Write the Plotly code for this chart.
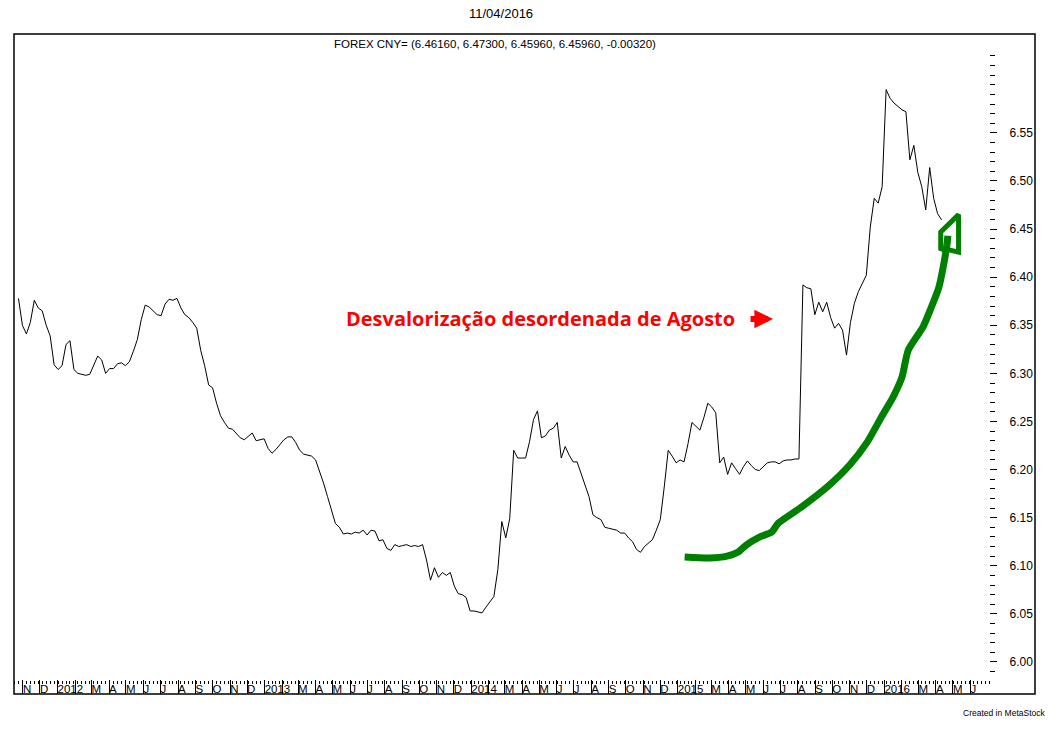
import numpy as np
import pandas as pd
import plotly.graph_objects as go

# ---------------- data (weekly closes, USD/CNY) ----------------
last_date = "2016-04-11"
close = [
    6.378, 6.350, 6.341, 6.353, 6.376, 6.368, 6.365, 6.350, 6.339, 6.309,
    6.304, 6.308, 6.330, 6.334, 6.304, 6.300, 6.299, 6.298, 6.299, 6.308,
    6.318, 6.314, 6.300, 6.305, 6.305, 6.310, 6.311, 6.308, 6.312, 6.323,
    6.335, 6.356, 6.371, 6.369, 6.365, 6.361, 6.360, 6.372, 6.377, 6.376,
    6.378, 6.368, 6.361, 6.358, 6.353, 6.347, 6.324, 6.308, 6.288, 6.285,
    6.269, 6.256, 6.249, 6.243, 6.242, 6.238, 6.233, 6.231, 6.235, 6.238,
    6.230, 6.231, 6.232, 6.222, 6.217, 6.221, 6.226, 6.231, 6.234, 6.234,
    6.228, 6.220, 6.216, 6.215, 6.214, 6.210, 6.199, 6.186, 6.172, 6.157,
    6.144, 6.140, 6.133, 6.134, 6.133, 6.135, 6.134, 6.137, 6.132, 6.137,
    6.136, 6.126, 6.127, 6.118, 6.116, 6.122, 6.120, 6.121, 6.122, 6.120,
    6.121, 6.120, 6.122, 6.106, 6.085, 6.098, 6.088, 6.093, 6.090, 6.093,
    6.079, 6.071, 6.070, 6.067, 6.053, 6.053, 6.052, 6.051, 6.057, 6.062,
    6.068, 6.096, 6.146, 6.129, 6.149, 6.220, 6.212, 6.212, 6.212, 6.229,
    6.252, 6.261, 6.233, 6.235, 6.241, 6.243, 6.249, 6.212, 6.224, 6.215,
    6.208, 6.208, 6.196, 6.186, 6.172, 6.153, 6.150, 6.148, 6.140, 6.139,
    6.138, 6.137, 6.134, 6.134, 6.129, 6.125, 6.117, 6.114, 6.120, 6.124,
    6.127, 6.137, 6.148, 6.182, 6.220, 6.214, 6.207, 6.210, 6.208, 6.227,
    6.249, 6.245, 6.241, 6.254, 6.269, 6.265, 6.259, 6.207, 6.213, 6.195,
    6.207, 6.201, 6.195, 6.203, 6.209, 6.204, 6.200, 6.199, 6.203, 6.207,
    6.208, 6.208, 6.206, 6.209, 6.210, 6.210, 6.211, 6.211, 6.392, 6.389,
    6.388, 6.361, 6.374, 6.364, 6.374, 6.358, 6.347, 6.352, 6.345, 6.319,
    6.353, 6.373, 6.385, 6.394, 6.402, 6.452, 6.482, 6.477, 6.494, 6.595,
    6.586, 6.581, 6.577, 6.574, 6.572, 6.522, 6.537, 6.509, 6.494, 6.470,
    6.514, 6.482, 6.466, 6.4596,
]
dates = pd.date_range(end=last_date, periods=len(close), freq="7D")

# hand-drawn green trend arrow (annotation drawn on the chart)
trend_dates = ["2015-01-13", "2015-02-26", "2015-03-29", "2015-04-17", "2015-05-03",
               "2015-05-26", "2015-06-16", "2015-06-27", "2015-08-05", "2015-09-22",
               "2015-11-01", "2015-12-01", "2015-12-27", "2016-01-16", "2016-02-01",
               "2016-02-12", "2016-03-09", "2016-03-22", "2016-04-06", "2016-04-14",
               "2016-04-21", "2016-04-22"]
trend_values = [6.109, 6.108, 6.110, 6.114, 6.122,
                6.130, 6.135, 6.144, 6.160, 6.182,
                6.205, 6.228, 6.255, 6.275, 6.296,
                6.324, 6.348, 6.366, 6.389, 6.411,
                6.436, 6.443]
head_dates = ["2016-04-13", "2016-04-09 12:00", "2016-04-09 12:00", "2016-05-11", "2016-05-11", "2016-04-13"]
head_values = [6.430, 6.428, 6.447, 6.465, 6.426, 6.430]

# axis labels
month_initials = ["J", "F", "M", "A", "M", "J", "J", "A", "S", "O", "N", "D"]
month_ticks = pd.date_range("2011-11-01", "2016-06-01", freq="MS")
month_text = [str(d.year) if d.month == 1 else ("" if d.month == 2 else month_initials[d.month - 1])
              for d in month_ticks]
price_ticks = [6.00, 6.05, 6.10, 6.15, 6.20, 6.25, 6.30, 6.35, 6.40, 6.45, 6.50, 6.55]
price_minor = list(np.round(np.arange(599, 664) / 100.0, 2))

title_date = "11/04/2016"
header = "FOREX CNY= (6.46160, 6.47300, 6.45960, 6.45960, -0.00320)"
note = "Desvalorização desordenada de Agosto"

FONT = "Liberation Sans, Arial, sans-serif"

fig = go.Figure()
fig.add_trace(go.Scatter(x=dates, y=close, mode="lines",
                         line=dict(color="black", width=1), hoverinfo="skip", showlegend=False))
fig.add_trace(go.Scatter(x=trend_dates, y=trend_values, mode="lines",
                         line=dict(color="#008000", width=7, shape="spline", smoothing=0.6),
                         hoverinfo="skip", showlegend=False))
fig.add_trace(go.Scatter(x=head_dates, y=head_values, mode="lines",
                         line=dict(color="#008000", width=5), hoverinfo="skip", showlegend=False))
# invisible trace to keep the label axis alive
fig.add_trace(go.Scatter(x=[dates[0]], y=[close[0]], xaxis="x2", mode="markers",
                         marker=dict(opacity=0), hoverinfo="skip", showlegend=False))

x_range = ["2011-10-16 03:00", "2016-07-05 12:00"]
x_dom = [0, 0.9559]

fig.update_layout(
    width=1063, height=734,
    margin=dict(l=14, r=28, t=34, b=40),
    paper_bgcolor="white", plot_bgcolor="white",
    showlegend=False,
    xaxis=dict(type="date", domain=x_dom, range=x_range, anchor="y",
               showgrid=False, zeroline=False, showline=False,
               tickmode="array", tickvals=month_ticks, ticks="inside", ticklen=14,
               tickwidth=1, tickcolor="black", showticklabels=False),
    xaxis2=dict(type="date", overlaying="x", matches="x", anchor="free", position=14 / 660,
                side="bottom", domain=x_dom, range=x_range,
                showgrid=False, zeroline=False, showline=False,
                tickmode="array", tickvals=month_ticks, ticktext=month_text,
                ticks="", ticklabelposition="outside right", tickangle=0,
                tickfont=dict(family=FONT, size=11.5, color="black"),
                minor=dict(tickmode="linear", tick0="2011-10-24", dtick=7 * 86400000,
                           ticks="outside", ticklen=3, tickwidth=1, tickcolor="black")),
    yaxis=dict(range=[5.9667, 6.6528], anchor="free", position=0.955, side="right",
               showgrid=False, zeroline=False, showline=False,
               tickmode="array", tickvals=price_ticks, ticktext=["%.2f" % v for v in price_ticks],
               ticks="outside", ticklen=7, tickwidth=1, tickcolor="black",
               ticklabelstandoff=10,
               tickfont=dict(family=FONT, size=12, color="black"),
               minor=dict(tickmode="array", tickvals=price_minor, ticks="outside",
                          ticklen=5, tickwidth=1, tickcolor="black")),
    shapes=[dict(type="rect", xref="paper", yref="paper", x0=0, x1=1, y0=0, y1=1,
                 line=dict(color="black", width=1.5), layer="above")],
    annotations=[
        dict(text=title_date, xref="paper", yref="paper", x=0.477, y=(694 - 13) / 660,
             showarrow=False, xanchor="center", yanchor="middle",
             font=dict(family=FONT, size=13, color="black")),
        dict(text=header, xref="paper", yref="paper", x=(495 - 14) / 1021, y=(694 - 44) / 660,
             showarrow=False, xanchor="center", yanchor="middle",
             font=dict(family=FONT, size=11.5, color="black")),
        dict(text=note, xref="paper", yref="paper", x=(540.5 - 14) / 1021, y=(694 - 318) / 660,
             showarrow=False, xanchor="center", yanchor="middle",
             font=dict(family="Open Sans, sans-serif", size=20, color="#ff0000", weight="bold")),
        dict(text="", xref="paper", yref="paper", x=(773 - 14) / 1021, y=(694 - 319) / 660,
             showarrow=True, axref="pixel", ayref="pixel", ax=-24, ay=0,
             arrowhead=2, arrowsize=0.62, arrowwidth=6, arrowcolor="#ff0000"),
        dict(text="Created in MetaStock", xref="paper", yref="paper", x=(1047 - 14) / 1021,
             y=(694 - 713) / 660, showarrow=False, xanchor="right", yanchor="middle",
             font=dict(family=FONT, size=8.5, color="black")),
    ],
)

fig.write_html("out.html", config={"displayModeBar": False},
               post_script="document.body.style.margin='0';document.body.style.overflow='hidden';")
